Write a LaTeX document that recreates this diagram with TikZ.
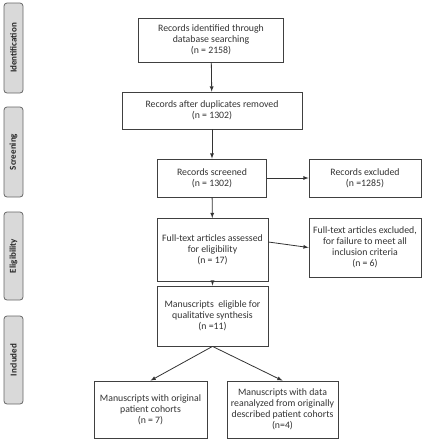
\documentclass[tikz,border=0pt]{standalone}
\usepackage{fontspec}
\setmainfont{Carlito}
\usepackage{tikz}

\begin{document}
\begin{tikzpicture}
  [x=1pt,y=-1pt,
   box/.style={rectangle, draw=black!75, line width=0.8pt, fill=white, inner sep=0pt, align=center,
     text=black!80, font=\fontsize{9.8}{11}\selectfont},
   phase/.style={rectangle, rounded corners=3pt, draw=black!60, line width=0.8pt, fill=black!15,
     rotate=90, inner sep=0pt, minimum height=19pt, text=black!85, font=\fontsize{9}{10}\selectfont\bfseries},
   link/.style={-latex, line width=0.8pt, draw=black!80}]

  \useasboundingbox (0,0) rectangle (423,440);

  %%%%%%%%%%%%%%%%%%%%%% PHASES %%%%%%%%%%%%%%%%%%%%%%
  \node[phase, minimum width=90pt] (ph_ident) at (13.5,48)  {Identification};
  \node[phase, minimum width=90pt] (ph_screen) at (13.5,152) {Screening};
  \node[phase, minimum width=88pt] (ph_elig) at (13.5,256)  {Eligibility};
  \node[phase, minimum width=88pt] (ph_incl) at (13.5,360)  {Included};

  %%%%%%%%%%%%%%%%%%%%%% BOXES %%%%%%%%%%%%%%%%%%%%%%
  \node[box, minimum width=145pt, minimum height=44pt] (rec_id) at (211,40)
    {Records identified through\\database searching\\(n = 2158)};
  \node[box, minimum width=180pt, minimum height=37pt] (rec_dup) at (212,110.5)
    {Records after duplicates removed\\(n = 1302)};
  \node[box, minimum width=109pt, minimum height=38pt] (rec_scr) at (212,178)
    {Records screened\\(n = 1302)};
  \node[box, minimum width=112pt, minimum height=38pt] (rec_exc) at (365,178)
    {Records excluded\\(n =1285)};
  \node[box, minimum width=111pt, minimum height=63pt] (art_full) at (212.5,250)
    {Full-text articles assessed\\for eligibility\\(n = 17)};
  \node[box, minimum width=112pt, minimum height=59pt] (art_exc) at (365,247.5)
    {Full-text articles excluded,\\for failure to meet all\\inclusion criteria\\(n = 6)};
  \node[box, minimum width=111pt, minimum height=60pt] (man_elig) at (212.5,316)
    {Manuscripts~ eligible for\\qualitative synthesis\\(n =11)};
  \node[box, minimum width=113pt, minimum height=57pt] (man_orig) at (150.5,409.5)
    {Manuscripts with original\\patient cohorts\\(n = 7)};
  \node[box, minimum width=111pt, minimum height=57pt] (man_rean) at (282.5,409.5)
    {Manuscripts with data\\reanalyzed from originally\\described patient cohorts\\(n=4)};

  %%%%%%%%%%%%%%%%%%%%%% ARROWS %%%%%%%%%%%%%%%%%%%%%%
  \foreach \fromnode/\tonode in {rec_id/rec_dup,rec_dup/rec_scr,rec_scr/art_full,art_full/man_elig,rec_scr/rec_exc}
    \draw[link] (\fromnode) -- (\tonode);

  \foreach \tonode in {man_orig,man_rean}
    \draw[link] (man_elig.south) -- (\tonode.north);

  \draw[link] ([yshift=8pt]art_full.east) -- (art_exc.west);

\end{tikzpicture}
\end{document}
